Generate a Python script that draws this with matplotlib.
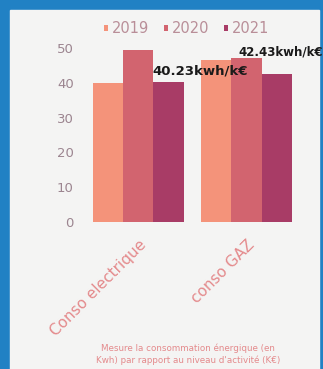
import numpy as np
import matplotlib.pyplot as plt
from matplotlib.patches import Rectangle

# data
categories = ['Conso electrique', 'conso GAZ']
years = ['2019', '2020', '2021']
values_2019 = [40.0, 46.6]
values_2020 = [49.5, 47.0]
values_2021 = [40.23, 42.43]
bar_labels = ['40.23kwh/k€', '42.43kwh/k€']

colors = ['#f4937a', '#d2646f', '#a83c66']
txt_col = '#b98e98'

fig = plt.figure(figsize=(3.23, 3.69), dpi=100)
fig.patch.set_facecolor('#2181c4')
# light card behind everything
card = Rectangle((10 / 323, 0), 309 / 323, 359 / 369,
                 transform=fig.transFigure, color='#f4f4f3', zorder=-10)
fig.add_artist(card)

ax = fig.add_axes([82 / 323, 147 / 369, 223 / 323, 181 / 369])
ax.set_facecolor('none')
ax.set_zorder(5)

x = np.arange(len(categories))
w = 0.28
series = [values_2019, values_2020, values_2021]
for i, vals in enumerate(series):
    ax.bar(x + (i - 1) * w, vals, w, color=colors[i], label=years[i])

ax.set_xlim(-0.52, 1.54)
ax.set_ylim(0, 52)
ax.set_yticks([0, 10, 20, 30, 40, 50])
ax.tick_params(axis='y', length=0, pad=6, labelsize=9.5, labelcolor='#9c8590')
ax.set_xticks(x)
ax.set_xticklabels(categories, rotation=45, ha='right', rotation_mode='anchor',
                   fontsize=11, color='#e48a8c')
ax.tick_params(axis='x', length=0, pad=11)
for s in ax.spines.values():
    s.set_visible(False)

# value labels
ax.text(0.57, 43.4, bar_labels[0], ha='center', va='center',
        fontsize=9.5, fontweight='bold', color='#1a1a1a')
ax.text(1.0, 0.858, bar_labels[1], transform=fig.transFigure, ha='right', va='center',
        fontsize=8.5, fontweight='bold', color='#1a1a1a')

# legend: small dots with year text
leg = ax.legend(loc='center', bbox_to_anchor=(0.47, 1.07), ncol=3, frameon=False,
                handlelength=0.25, handleheight=0.25, handletextpad=0.3, columnspacing=1.0,
                fontsize=10.5)
for t in leg.get_texts():
    t.set_color(txt_col)

fig.text(188 / 323, 15 / 369,
         "Mesure la consommation énergique (en\nKwh) par rapport au niveau d'activité (K€)",
         ha='center', va='center', fontsize=6.3, color='#e48a8c', linespacing=1.3)

fig.savefig('out.png', dpi=100, facecolor=fig.get_facecolor())
